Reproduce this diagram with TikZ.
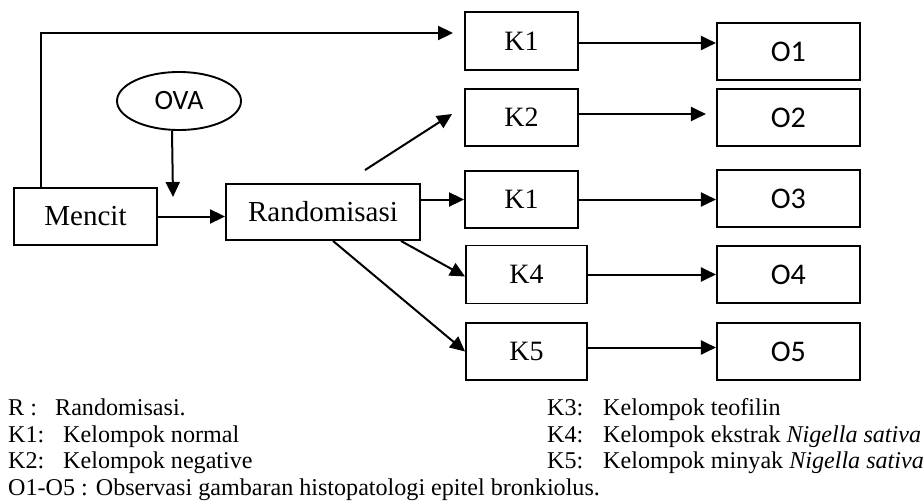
\documentclass[tikz,border=0pt]{standalone}
\usepackage{fontspec}
\setmainfont{Liberation Serif}
\newfontfamily\calibri{Carlito}
\usetikzlibrary{shapes.geometric, arrows.meta, positioning}

\begin{document}
\begin{tikzpicture}[
    x=1pt, y=-1pt,
    box/.style={rectangle, draw, line width=1.9pt, minimum height=57pt, inner sep=0pt, align=center, font=\fontsize{28}{32}\selectfont},
    kbox/.style={box, minimum width=113pt},
    obox/.style={box, minimum width=143pt, font=\calibri\fontsize{30}{34}\selectfont},
    note/.style={anchor=base west, inner sep=0pt, font=\fontsize{24.1}{27}\selectfont},
    arr/.style={->, line width=2pt},
    >={Triangle[length=15pt,width=14pt]}
]
\useasboundingbox (0,0) rectangle (924,503);

\node[box, minimum width=143pt, font=\fontsize{29}{34}\selectfont] (mencit) at (85.5,216.5) {Mencit};
\node[box, minimum width=194pt, minimum height=56pt, font=\fontsize{29}{34}\selectfont] (rand) at (323,212) {Randomisasi};
\node[ellipse, draw, line width=1.9pt, minimum width=124pt, minimum height=58pt, inner sep=0pt, font=\calibri\fontsize{28}{32}\selectfont] (ova) at (179,101) {OVA};

\node[kbox, minimum height=58pt] (k1a) at (521.5,41) {K1};
\node[kbox] (k2) at (521.5,117.5) {K2};
\node[kbox] (k1b) at (521.5,199.5) {K1};
\node[kbox, minimum width=121pt, minimum height=58pt] (k4) at (526.5,274.5) {K4};
\node[kbox, minimum width=121pt] (k5) at (526.5,351.5) {K5};

\node[obox, right=137pt of k1a, yshift=-10.5pt] (o1) {O1};
\node[obox, right=137pt of k2] (o2) {O2};
\node[obox, right=137pt of k1b, yshift=1pt] (o3) {O3};
\node[obox, right=128pt of k4] (o4) {O4};
\node[obox, right=128pt of k5] (o5) {O5};

\coordinate (ovatip) at (173,197);

\draw[arr] ([xshift=-7pt]ova.south) -- (ovatip);
\draw[arr] (mencit.east) -- (mencit.east -| rand.west);
\draw[arr, shorten >=11pt] ([xshift=28pt]mencit.north west) |- ([yshift=8pt]k1a.west);
\draw[arr] ([xshift=42pt,yshift=13pt]rand.north) -- ([xshift=-12pt,yshift=3.5pt]k2.west);
\draw[arr] (rand.east |- k1b) -- (k1b.west);
\draw[arr] ([xshift=-20pt]rand.south east) -- ([yshift=-2pt]k4.west);
\draw[arr] ([xshift=10pt]rand.south) -- (k5.west);

\draw[arr] ([yshift=-2pt]k1a.east) -- ([yshift=-2pt]k1a.east -| o1.west);
\draw[arr, shorten >=10pt] ([yshift=3.5pt]k2.east) -- ([yshift=3.5pt]o2.west);
\draw[arr] (k1b.east) -- (k1b.east -| o3.west);
\draw[arr] (k4.east) -- (o4.west);
\draw[arr] ([yshift=4pt]k5.east) -- ([yshift=4pt]o5.west);

\node[note] (legr) at (8,415) {R :};
\node[note] (legrt) at (55,415) {Randomisasi.};
\node[note] (legk1) at (8,442) {K1:};
\node[note] (legk1t) at (63,442) {Kelompok normal};
\node[note] (legk2) at (8,468) {K2:};
\node[note] (legk2t) at (63,468) {Kelompok negative};
\node[note] (lego) at (8,495) {O1-O5 : Observasi gambaran histopatologi epitel bronkiolus.};
\node[note] (legk3) at (547,415) {K3:};
\node[note] (legk3t) at (603,415) {Kelompok teofilin};
\node[note] (legk4) at (547,442) {K4:};
\node[note] (legk4t) at (603,442) {Kelompok ekstrak \textit{Nigella sativa}};
\node[note] (legk5) at (547,468) {K5:};
\node[note] (legk5t) at (603,468) {Kelompok minyak \textit{Nigella sativa}};
\end{tikzpicture}
\end{document}
